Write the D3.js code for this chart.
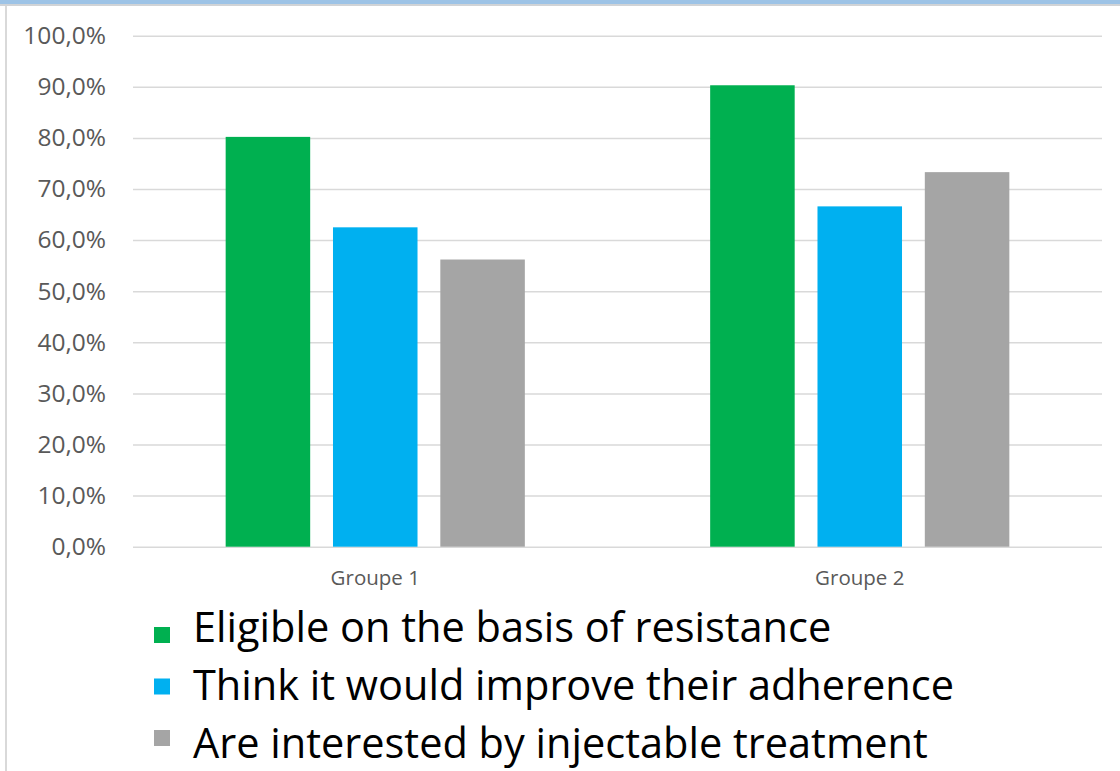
<!DOCTYPE html>
<html>
<head>
<meta charset="utf-8">
<script src="https://cdn.jsdelivr.net/npm/d3@7"></script>
<style>
  html, body { margin: 0; padding: 0; background: #fff; }
  svg { display: block; }
  .tick text { font-family: "Open Sans", "Noto Sans", sans-serif; fill: #595959; }
</style>
</head>
<body>
<svg id="chart" width="1120" height="771"></svg>
<script>
// Data
const groups = ["Groupe 1", "Groupe 2"];
const seriesNames = [
  "Eligible on the basis of resistance",
  "Think it would improve their adherence",
  "Are interested by injectable treatment"
];
const eligible   = [0.802, 0.903];
const improve    = [0.625, 0.666];
const interested = [0.562, 0.733];
const seriesColors = ["#00b050", "#00b0f0", "#a5a5a5"];
const yTicks = [0, 0.1, 0.2, 0.3, 0.4, 0.5, 0.6, 0.7, 0.8, 0.9, 1.0];

const seriesValues = [eligible, improve, interested];

const svg = d3.select("#chart");
const W = 1120, H = 771;

// Frame: blue strip on top, light grey rules
svg.append("rect").attr("x", 0).attr("y", 0).attr("width", W).attr("height", 4).attr("fill", "#9dc3e6");
svg.append("rect").attr("x", 0).attr("y", 4).attr("width", W).attr("height", 2).attr("fill", "#d0d3d6");
svg.append("rect").attr("x", 5).attr("y", 6).attr("width", 2).attr("height", H - 6).attr("fill", "#d9d9d9");

// Plot area
const plot = { left: 133, right: 1102, top: 35.7, bottom: 546.7 };

const y = d3.scaleLinear().domain([0, 1]).range([plot.bottom, plot.top]);
const x0 = d3.scaleBand().domain(groups).range([plot.left, plot.right])
  .paddingInner(0.3825).paddingOuter(0.19125);
const x1 = d3.scaleBand().domain(d3.range(seriesNames.length)).range([0, x0.bandwidth()])
  .paddingInner(0.2125);

const fr = d3.formatLocale({ decimal: ",", thousands: " ", grouping: [3], currency: ["", " €"] });
const pct = fr.format(".1%");

// Y axis with gridlines
const yAxis = svg.append("g")
  .attr("transform", `translate(${plot.left},0)`)
  .call(d3.axisLeft(y).tickValues(yTicks).tickFormat(pct)
    .tickSize(-(plot.right - plot.left)).tickPadding(27));
yAxis.select(".domain").remove();
yAxis.selectAll(".tick line").attr("stroke", "#d9d9d9").attr("stroke-width", 1.5);
yAxis.selectAll(".tick text").attr("font-size", 24.5);

// Bars
const gGroups = svg.append("g").selectAll("g")
  .data(groups)
  .join("g")
  .attr("transform", d => `translate(${x0(d)},0)`);

gGroups.selectAll("rect")
  .data((g, gi) => seriesValues.map((vals, si) => ({ si, v: vals[gi] })))
  .join("rect")
  .attr("x", d => x1(d.si))
  .attr("width", x1.bandwidth())
  .attr("y", d => y(d.v))
  .attr("height", d => y(0) - y(d.v))
  .attr("fill", d => seriesColors[d.si]);

// X axis labels
const xAxis = svg.append("g")
  .attr("transform", `translate(0,${plot.bottom})`)
  .call(d3.axisBottom(x0).tickSize(0).tickPadding(24));
xAxis.select(".domain").remove();
xAxis.selectAll(".tick text").attr("font-size", 20.5);

// Legend
const markerY = d3.scaleLinear().domain([0, 2]).range([627, 730]);
const textY = d3.scaleLinear().domain([0, 2]).range([642, 758]);
const legend = svg.append("g");
const rows = legend.selectAll("g").data(seriesNames).join("g");
rows.append("rect")
  .attr("x", 154)
  .attr("y", (d, i) => markerY(i))
  .attr("width", 16).attr("height", 16)
  .attr("fill", (d, i) => seriesColors[i]);
rows.append("text")
  .attr("x", 193)
  .attr("y", (d, i) => textY(i))
  .attr("font-family", "'Open Sans', 'Noto Sans', sans-serif")
  .attr("font-size", 41.5)
  .attr("fill", "#000")
  .text(d => d);
</script>
</body>
</html>
